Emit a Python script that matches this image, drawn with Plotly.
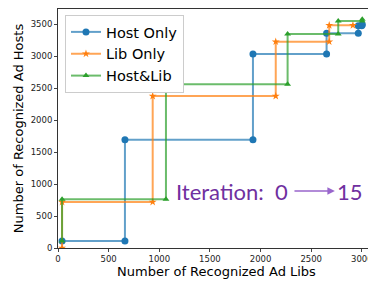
import plotly.graph_objects as go

# Host Only
host_x = [40, 661, 661, 1925, 1925, 2652, 2652, 2965, 2965, 2998, 3005]
host_y = [110, 110, 1692, 1692, 3031, 3031, 3355, 3355, 3473, 3473, 3490]
# Lib Only
lib_x = [40, 40, 935, 935, 2150, 2150, 2678, 2678, 2912]
lib_y = [0, 719, 719, 2375, 2375, 3224, 3224, 3480, 3480]
# Host&Lib
both_x = [40, 40, 1066, 1066, 2267, 2267, 2767, 2767, 3004, 3004]
both_y = [110, 761, 761, 2558, 2558, 3344, 3344, 3547, 3547, 3573]

series_names = ["Host Only", "Lib Only", "Host&Lib"]
x_ticks = [0, 500, 1000, 1500, 2000, 2500, 3000]
y_ticks = [0, 500, 1000, 1500, 2000, 2500, 3000, 3500]

colors = ["#1f77b4", "#ff7f0e", "#2ca02c"]
line_colors = ["rgba(31,119,180,0.7)", "rgba(255,127,14,0.7)", "rgba(44,160,44,0.7)"]
symbols = ["circle", "star", "triangle-up"]
sizes = [7, 6, 6]

fig = go.Figure()
for name, xs, ys, c, lc, s, sz in zip(series_names, [host_x, lib_x, both_x], [host_y, lib_y, both_y],
                                     colors, line_colors, symbols, sizes):
    fig.add_trace(go.Scatter(x=xs, y=ys, mode="lines+markers", name=name,
                             line=dict(color=lc, width=2),
                             marker=dict(color=c, symbol=s, size=sz, line=dict(width=0))))

# page body has an 8px margin, so the figure is sized to fit what is left of the window
font_main = "DejaVu Sans"
fig.update_layout(
    width=368, height=273,
    margin=dict(l=50, r=1, t=1, b=33),
    paper_bgcolor="white", plot_bgcolor="white",
    font=dict(family=font_main, color="black"),
    showlegend=True,
    legend=dict(x=0.022, y=0.975, xanchor="left", yanchor="top",
                bgcolor="white", bordercolor="#cccccc", borderwidth=1,
                font=dict(size=14.5, family=font_main), itemwidth=30,
                tracegroupgap=0),
    xaxis=dict(range=[0, 3130], tickvals=x_ticks, ticks="outside", ticklen=3,
               showline=True, linecolor="#333", linewidth=1, mirror=True,
               showgrid=False, zeroline=False, automargin=False,
               tickfont=dict(size=8.5, family=font_main, color="#222"),
               title=dict(text="Number of Recognized Ad Libs", font=dict(size=13), standoff=2)),
    yaxis=dict(range=[0, 3735], tickvals=y_ticks, ticks="outside", ticklen=3,
               showline=True, linecolor="#333", linewidth=1, mirror=True,
               showgrid=False, zeroline=False, automargin=False,
               tickfont=dict(size=8.5, family=font_main, color="#222"),
               title=dict(text="Number of Recognized Ad Hosts", font=dict(size=13), standoff=4)),
)

purple = "#7030A0"
fig.add_annotation(x=2290, y=890, xref="x", yref="y", text="Iteration:  0", showarrow=False,
                   xanchor="right", yanchor="middle",
                   font=dict(family="Lato", size=22, color=purple))
fig.add_annotation(x=2734, y=890, xref="x", yref="y", text="15", showarrow=False,
                   xanchor="left", yanchor="middle",
                   font=dict(family="Lato", size=22, color=purple))
fig.add_annotation(x=2734, y=890, ax=2320, ay=890, xref="x", yref="y", axref="x", ayref="y",
                   text="", showarrow=True, arrowhead=2, arrowsize=1, arrowwidth=1.5,
                   arrowcolor="#9966CC")

fig.write_html("out.html")
